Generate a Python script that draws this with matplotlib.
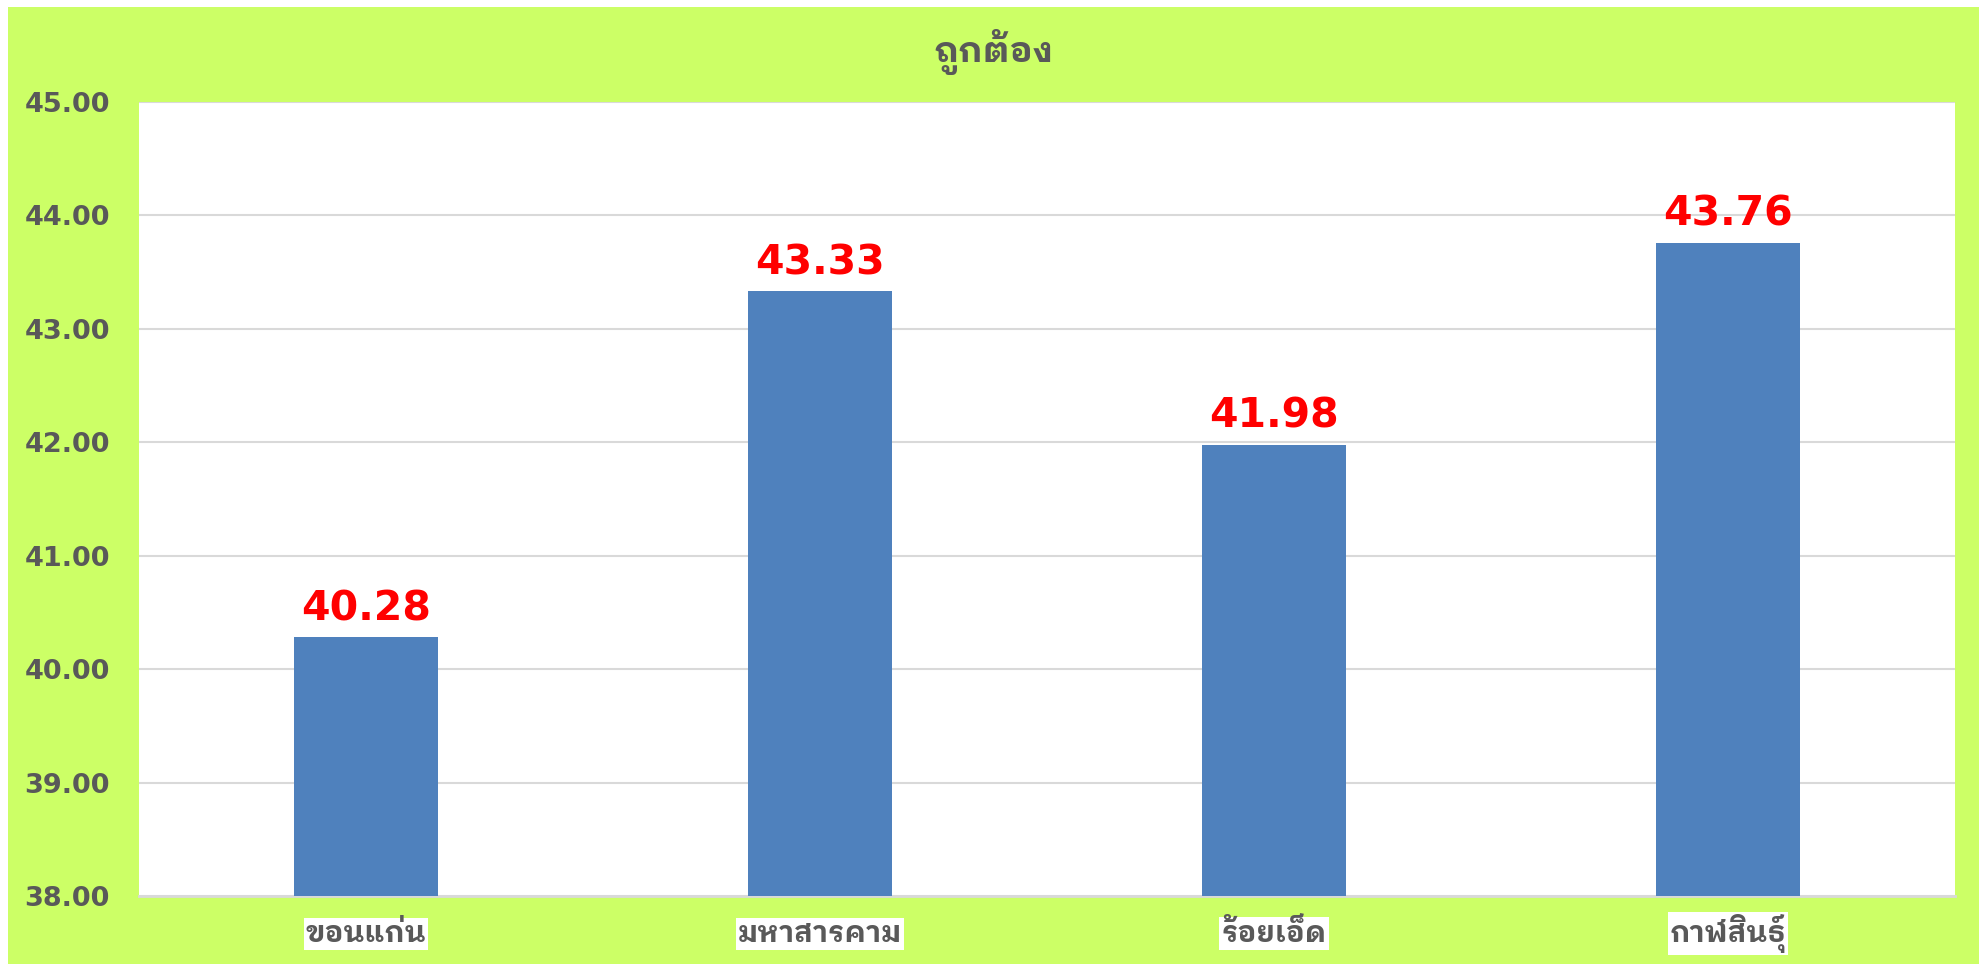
import matplotlib
matplotlib.use("Agg")
import matplotlib.pyplot as plt
from matplotlib.patches import Rectangle

# ข้อมูล
categories = ['ขอนแก่น', 'มหาสารคาม', 'ร้อยเอ็ด', 'กาฬสินธุ์']
values = [40.28, 43.33, 41.98, 43.76]
yticks = [38, 39, 40, 41, 42, 43, 44, 45]
title = 'ถูกต้อง'

thai_font = ['IBM Plex Sans Thai Looped', 'DejaVu Sans']
lime = '#CCFF66'
grey_text = '#595959'

fig = plt.figure(figsize=(19.88, 9.64), dpi=100, facecolor='white')

# พื้นหลังสีเขียวอ่อน (มีขอบขาวเล็กน้อย)
fig.patches.append(Rectangle((8 / 1988, 0), (1979 - 8) / 1988, 957 / 964,
                             transform=fig.transFigure, facecolor=lime,
                             edgecolor='none', zorder=-1))

ax = fig.add_axes([139 / 1988, 68 / 964, 1816 / 1988, 794 / 964])
ax.set_facecolor('white')

x = range(len(categories))
ax.bar(x, values, width=0.315, color='#4F81BD', zorder=3)

ax.set_ylim(38, 45)
ax.set_xlim(-0.5, len(categories) - 0.5)
ax.set_yticks(yticks)
ax.set_yticklabels([f'{v:.2f}' for v in yticks], fontsize=19.5, fontweight='bold',
                   color=grey_text, family='DejaVu Sans')
ax.set_xticks(list(x))
ax.set_xticklabels(categories, fontsize=21, fontweight='bold', color=grey_text,
                   family=thai_font)
# จัดแนว baseline ให้ป้ายแกน x อยู่ระดับเดียวกัน
for lbl in ax.get_xticklabels():
    lbl.set_verticalalignment('baseline')
    lbl.set_bbox(dict(facecolor='white', edgecolor='none', pad=1.5))
ax.tick_params(axis='y', length=0, pad=21)
ax.tick_params(axis='x', length=0, pad=33)

ax.grid(axis='y', color='#D9D9D9', linewidth=1.5, zorder=0)
for side in ['top', 'right', 'left']:
    ax.spines[side].set_visible(False)
ax.spines['bottom'].set_color('#D9D9D9')
ax.spines['bottom'].set_linewidth(2)

# ป้ายค่าบนแท่ง
for xi, v in zip(x, values):
    ax.annotate(f'{v:.2f}', (xi, v), xytext=(0, 12), textcoords='offset points',
                ha='center', va='baseline', color='#FF0000', fontsize=29.5,
                fontweight='bold', family='DejaVu Sans', zorder=4)

fig.text(0.5, 1 - 52 / 964, title, ha='center', va='center', fontsize=25.5,
         fontweight='bold', color=grey_text, family=thai_font)

fig.savefig('out.png', dpi=100, facecolor=fig.get_facecolor())
